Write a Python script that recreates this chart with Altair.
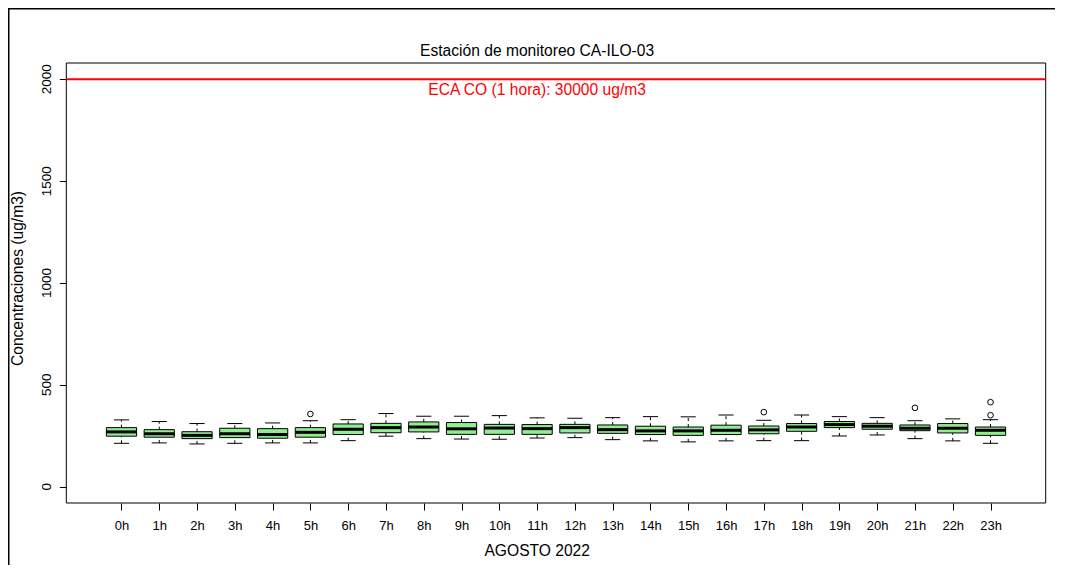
import altair as alt
import pandas as pd

# ---- data (ug/m3) ----
hours = list(range(24))
hour_labels = [f"{h}h" for h in hours]
whisk_hi = [328, 320, 310, 310, 313, 324, 329, 359, 346, 346, 349, 338,
            336, 339, 344, 343, 352, 326, 352, 344, 339, 324, 333, 329]
q3 = [290, 280, 270, 287, 285, 290, 308, 311, 318, 315, 306, 305,
      306, 303, 297, 293, 302, 298, 310, 320, 311, 303, 310, 293]
median = [269, 260, 252, 260, 256, 267, 282, 290, 293, 284, 288, 285,
          290, 280, 274, 274, 277, 279, 293, 305, 297, 287, 287, 277]
q1 = [248, 243, 236, 241, 238, 243, 256, 265, 269, 257, 257, 257,
      264, 262, 256, 252, 256, 260, 272, 290, 282, 275, 264, 252]
whisk_lo = [213, 215, 210, 213, 215, 215, 226, 248, 236, 234, 233, 239,
            241, 231, 225, 220, 225, 226, 226, 249, 254, 236, 225, 213]
out_hour = [5, 17, 21, 23, 23]
out_value = [357, 366, 387, 415, 351]
eca_value = 2000
eca_label = "ECA CO (1 hora): 30000 ug/m3"
y_ticks = [0, 500, 1000, 1500, 2000]

stats = pd.DataFrame({"hour": hours, "label": hour_labels, "lo": whisk_lo,
                      "q1": q1, "med": median, "q3": q3, "hi": whisk_hi})
outl = pd.DataFrame({"hour": out_hour, "val": out_value})
ytk = pd.DataFrame({"v": y_ticks})
one = pd.DataFrame({"k": [0]})

W, H = 1047, 440          # whole drawing group (plot box + left label area)
PL, PR = 58.3, 1037.7     # plot box left / right inside the group
PADT = 55
FONT = "Liberation Sans"
XMIN, XMAX = -1.46, 24.46
YMIN, YMAX = -80, 2080

xs = alt.Scale(domain=[XMIN, XMAX], range=[PL, PR], nice=False, zero=False)
ys = alt.Scale(domain=[YMIN, YMAX], nice=False, zero=False)
xaxis = alt.Axis(values=hours, labelExpr="datum.value + 'h'", grid=False, domain=False,
                 tickSize=7, tickColor="black", labelColor="black", labelFontSize=13,
                 labelPadding=19, labelBaseline="alphabetic", labelFont=FONT,
                 titleFont=FONT, titleFontSize=15.6, titleFontWeight="normal",
                 titleX=528.7, titleY=52, titleAlign="center", titleBaseline="alphabetic",
                 titleColor="black", labelFlush=False, labelOverlap=False)
yaxis = alt.Axis(values=y_ticks, labels=False, grid=False, domain=False, tickSize=7,
                 tickColor="black", offset=-PL,
                 titleFont=FONT, titleFontSize=15.6, titleFontWeight="normal",
                 titleAngle=270, titleX=-44, titleY=215, titleAlign="center",
                 titleBaseline="alphabetic", titleColor="black")
XT = "AGOSTO 2022"
YT = "Concentraciones (ug/m3)"


def X(field):
    return alt.X(field, type="quantitative", scale=xs, axis=xaxis, title=XT)


def Y(field):
    return alt.Y(field, type="quantitative", scale=ys, axis=yaxis, title=YT)


def XD(v):
    return alt.X(datum=v, type="quantitative", scale=xs, axis=xaxis, title=XT)


def YD(v):
    return alt.Y(datum=v, type="quantitative", scale=ys, axis=yaxis, title=YT)


base = alt.Chart(stats).transform_calculate(
    xl="datum.hour - 0.4", xr="datum.hour + 0.4",
    sl="datum.hour - 0.2", sr="datum.hour + 0.2")

wl = base.mark_rule(color="black", strokeWidth=1, strokeDash=[3, 3]).encode(
    x=X("hour"), y=Y("lo"), y2="q1")
wh = base.mark_rule(color="black", strokeWidth=1, strokeDash=[3, 3]).encode(
    x=X("hour"), y=Y("q3"), y2="hi")
sl = base.mark_rule(color="black", strokeWidth=1).encode(x=X("sl"), x2="sr", y=Y("lo"))
sh = base.mark_rule(color="black", strokeWidth=1).encode(x=X("sl"), x2="sr", y=Y("hi"))
box = base.mark_rect(fill="#90EE90", stroke="black", strokeWidth=1).encode(
    x=X("xl"), x2="xr", y=Y("q1"), y2="q3")
med = base.mark_rule(color="black", strokeWidth=3).encode(x=X("xl"), x2="xr", y=Y("med"))
pts = alt.Chart(outl).mark_point(shape="circle", filled=False, color="black",
                                 strokeWidth=1, size=32, opacity=1).encode(
    x=X("hour"), y=Y("val"))

# plot frame (R box)
frame_box = alt.Chart(one).mark_rect(fillOpacity=0, stroke="black", strokeWidth=1).encode(
    x=XD(XMIN), x2=alt.X2(datum=XMAX), y=YD(YMIN), y2=alt.Y2(datum=YMAX))

# rotated y tick labels (R style, reading upward)
ylabels = alt.Chart(ytk).mark_text(angle=270, align="center", baseline="alphabetic",
                                   fontSize=13.5, font=FONT, color="black").encode(
    x=alt.value(PL - 15.6), y=Y("v"), text=alt.Text("v:Q", format="d"))

eca_line = alt.Chart(one).mark_rule(color="#FF0000", strokeWidth=2).encode(
    x=XD(XMIN), x2=alt.X2(datum=XMAX), y=YD(eca_value))
eca_text = alt.Chart(one).mark_text(color="#FF0000", fontSize=15.6, font=FONT,
                                    align="center", baseline="alphabetic", dy=15.5).encode(
    x=XD(11), y=YD(eca_value), text=alt.value(eca_label))
title_text = alt.Chart(one).mark_text(color="black", fontSize=15.6, font=FONT,
                                      align="center", baseline="alphabetic").encode(
    x=XD(11), y=alt.value(-7), text=alt.value("Estación de monitoreo CA-ILO-03"))

frame_left = alt.Chart(one).mark_rule(color="black", strokeWidth=3).encode(
    x=alt.value(0), y=alt.value(-PADT), y2=alt.value(H + 80))
frame_top = alt.Chart(one).mark_rule(color="black", strokeWidth=3).encode(
    x=alt.value(0), x2=alt.value(W), y=alt.value(-PADT))

chart = alt.layer(wl, wh, sl, sh, box, med, pts, frame_box, ylabels, eca_line, eca_text,
                  title_text, frame_left, frame_top).properties(
    width=W, height=H,
    autosize=alt.AutoSizeParams(type="none"),
    padding={"left": 0, "top": PADT, "right": 0, "bottom": 62},
    background="white",
).configure_view(strokeOpacity=0)

chart.save("out.html", embed_options={"renderer": "svg", "actions": False})
